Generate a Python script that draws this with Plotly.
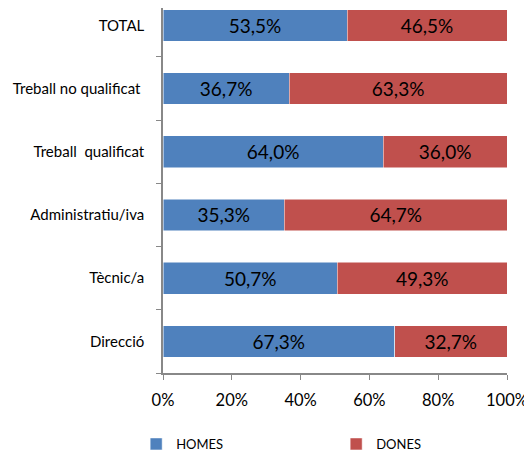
import plotly.graph_objects as go

categories = ["Direcció", "Tècnic/a", "Administratiu/iva", "Treball  qualificat", "Treball no qualificat ", "TOTAL"]
homes = [67.3, 50.7, 35.3, 64.0, 36.7, 53.5]
dones = [32.7, 49.3, 64.7, 36.0, 63.3, 46.5]
tick_vals = [0, 20, 40, 60, 80, 100]
tick_text = ["0%", "20%", "40%", "60%", "80%", "100%"]

def fmt(v):
    return f"{v:.1f}%".replace(".", ",")

FONT = "Lato, Open Sans, sans-serif"

fig = go.Figure()
fig.add_trace(go.Bar(
    y=categories, x=homes, orientation="h", name="HOMES",
    marker=dict(color="#4F81BD", line=dict(color="#FFFFFF", width=0.5)),
    text=[fmt(v) for v in homes], textposition="inside", insidetextanchor="middle",
    textfont=dict(size=19, color="#000000", family=FONT),
))
fig.add_trace(go.Bar(
    y=categories, x=dones, orientation="h", name="DONES",
    marker=dict(color="#C0504D", line=dict(color="#FFFFFF", width=0.5)),
    text=[fmt(v) for v in dones], textposition="inside", insidetextanchor="middle",
    textfont=dict(size=19, color="#000000", family=FONT),
))

fig.update_layout(
    barmode="stack", bargap=0.5,
    width=524, height=446,
    margin=dict(l=155, r=25, t=0, b=81, autoexpand=False),
    plot_bgcolor="white", paper_bgcolor="white",
    font=dict(family=FONT, color="#000000"),
    uniformtext=dict(mode="show", minsize=10),
    legend=dict(orientation="h", x=-0.078, y=-0.1945, xanchor="left", yanchor="middle",
                entrywidth=155, entrywidthmode="pixels",
                font=dict(size=13), itemwidth=30, traceorder="normal"),
    showlegend=True,
)
fig.update_xaxes(range=[0, 100], tickvals=tick_vals, ticktext=tick_text,
                 showgrid=False, zeroline=False, showline=True, linecolor="#888888", linewidth=1.5,
                 ticks="outside", ticklen=5, tickcolor="#888888", tickfont=dict(size=16.5),
                 ticklabelstandoff=6)
fig.update_yaxes(range=[-0.5, 5.275], showgrid=False, zeroline=False, showline=True,
                 linecolor="#888888", linewidth=1.5, ticks="outside", ticklen=5,
                 tickcolor="#888888", tickson="boundaries", tickfont=dict(size=15),
                 ticklabelstandoff=14)

fig.write_html("out.html")
